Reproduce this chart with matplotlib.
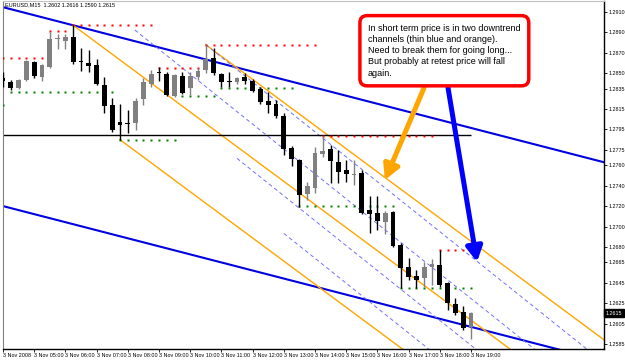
import matplotlib
matplotlib.use("Agg")
import matplotlib.pyplot as plt
import matplotlib.transforms as mtransforms

plt.rcParams['font.family'] = ['Liberation Sans', 'DejaVu Sans']

# EURUSD M15, 3 Nov 2008, 04:00 .. 19:00 (61 candles)
opens = [1.2845, 1.2841, 1.2836, 1.2843, 1.2861, 1.2846, 1.2856, 1.2884, 1.2882, 1.2886,
         1.2862, 1.2860, 1.2858, 1.2839, 1.2819, 1.2802, 1.2801, 1.2801, 1.2825, 1.2840,
         1.2851, 1.2849, 1.2828, 1.2847, 1.2836, 1.2846, 1.2853, 1.2865, 1.2849, 1.2842,
         1.2841, 1.2846, 1.2842, 1.2835, 1.2823, 1.2820, 1.2808, 1.2777, 1.2765, 1.2732,
         1.2738, 1.2771, 1.2776, 1.2763, 1.2755, 1.2750, 1.2752, 1.2716, 1.2713, 1.2704,
         1.2714, 1.2682, 1.2660, 1.2652, 1.2650, 1.2660, 1.2662, 1.2645, 1.2624, 1.2616,
         1.2602]
highs = [1.2851, 1.2843, 1.2844, 1.2863, 1.2862, 1.2859, 1.2890, 1.2888, 1.2888, 1.2897,
         1.2875, 1.2873, 1.2864, 1.2846, 1.2826, 1.2820, 1.2814, 1.2826, 1.2845, 1.2853,
         1.2856, 1.2851, 1.2849, 1.2851, 1.2851, 1.2855, 1.2878, 1.2875, 1.2850, 1.2851,
         1.2846, 1.2850, 1.2844, 1.2837, 1.2832, 1.2824, 1.2811, 1.2779, 1.2766, 1.2744,
         1.2778, 1.2789, 1.2780, 1.2775, 1.2765, 1.2765, 1.2755, 1.2730, 1.2730, 1.2715,
         1.2715, 1.2684, 1.2669, 1.2657, 1.2665, 1.2668, 1.2677, 1.2646, 1.2630, 1.2622,
         1.2616]
lows = [1.2837, 1.2834, 1.2835, 1.2842, 1.2845, 1.2842, 1.2855, 1.2874, 1.2874, 1.2859,
        1.2852, 1.2851, 1.2839, 1.2811, 1.2793, 1.2785, 1.2792, 1.2794, 1.2819, 1.2837,
        1.2842, 1.2828, 1.2827, 1.2830, 1.2829, 1.2843, 1.2850, 1.2848, 1.2837, 1.2837,
        1.2840, 1.2840, 1.2832, 1.2820, 1.2811, 1.2806, 1.2770, 1.2759, 1.2719, 1.2726,
        1.2733, 1.2768, 1.2743, 1.2743, 1.2744, 1.2741, 1.2712, 1.2694, 1.2697, 1.2693,
        1.2680, 1.2640, 1.2648, 1.2640, 1.2641, 1.2643, 1.2641, 1.2618, 1.2613, 1.2599,
        1.2590]
closes = [1.2842, 1.2836, 1.2843, 1.2862, 1.2847, 1.2858, 1.2884, 1.2884, 1.2886, 1.2861,
          1.2861, 1.2857, 1.2840, 1.2818, 1.2794, 1.2799, 1.2800, 1.2823, 1.2841, 1.2849,
          1.2850, 1.2829, 1.2848, 1.2831, 1.2847, 1.2852, 1.2864, 1.2850, 1.2841, 1.2841,
          1.2845, 1.2842, 1.2833, 1.2822, 1.2819, 1.2808, 1.2776, 1.2766, 1.2731, 1.2740,
          1.2772, 1.2774, 1.2764, 1.2753, 1.2751, 1.2751, 1.2713, 1.2712, 1.2705, 1.2713,
          1.2681, 1.2659, 1.2651, 1.2648, 1.2660, 1.2663, 1.2643, 1.2625, 1.2615, 1.2601,
          1.2615]

time_labels = ["3 Nov 2008", "3 Nov 05:00", "3 Nov 06:00", "3 Nov 07:00", "3 Nov 08:00",
               "3 Nov 09:00", "3 Nov 10:00", "3 Nov 11:00", "3 Nov 12:00", "3 Nov 13:00",
               "3 Nov 14:00", "3 Nov 15:00", "3 Nov 16:00", "3 Nov 17:00", "3 Nov 18:00",
               "3 Nov 19:00"]
price_ticks = [1.2910, 1.2890, 1.2870, 1.2850, 1.2835, 1.2815, 1.2795, 1.2775, 1.2760,
               1.2740, 1.2720, 1.2700, 1.2680, 1.2665, 1.2645, 1.2625, 1.2605, 1.2585]

# dotted fractal levels: (first bar, last bar, price)
red_levels = [(0, 5, 1.2865), (6, 8, 1.2891), (9, 19, 1.2897), (20, 25, 1.2855),
              (26, 40, 1.2878), (41, 55, 1.2789), (56, 60, 1.2677)]
green_levels = [(0, 0, 1.2819), (1, 14, 1.2832), (15, 22, 1.2785), (23, 27, 1.2828),
                (28, 37, 1.2836), (38, 50, 1.2720), (51, 60, 1.2640)]

# long blue channel: two anchor points of the upper line, one point of the lower
blue_upper = [(9, 1.2897), (77, 1.2763)]
blue_lower_start = (0, 1.2720)
# orange channel lines: start point, common slope per bar
orange_starts = [(9, 1.2897), (15, 1.2785), (26, 1.2878)]
orange_slope = -0.000566
# thin dashed blue channel: start point, common slope per bar
dashed_starts = [(26, 1.2878), (16.9, 1.28924), (30, 1.27667), (36, 1.26933)]
dashed_slope = -0.000610
level_price = 1.2790

note = ("In short term price is in two downtrend\n"
        "channels (thin blue and orange).\n"
        "Need to break them for going long...\n"
        "But probably at retest price will fall\n"
        "again.")
orange_arrow = [(53.97, 1.28356), (48.97, 1.27455)]
blue_arrow = [(57.05, 1.2836), (60.77, 1.26653)]
last_price = 1.2615

fig = plt.figure(figsize=(6.25, 3.6), dpi=100)
ax = fig.add_axes([2.5 / 625, 11 / 360, 601.5 / 625, 348 / 360])
ax.set_xlim(-0.06, 77.05)
ax.set_ylim(1.258008, 1.292077)

n = len(opens)
bars = list(range(n))
x_end = 80

# long blue channel
slope_b = (blue_upper[1][1] - blue_upper[0][1]) / (blue_upper[1][0] - blue_upper[0][0])
ax.plot([-1, x_end], [blue_upper[0][1] + slope_b * (-1 - blue_upper[0][0]),
                      blue_upper[0][1] + slope_b * (x_end - blue_upper[0][0])],
        color='#0000e0', lw=1.5, zorder=2)
bx, by = blue_lower_start
ax.plot([-1, x_end], [by + slope_b * (-1 - bx), by + slope_b * (x_end - bx)],
        color='#0000e0', lw=1.5, zorder=2)

for sx, sy in orange_starts:
    ax.plot([sx, x_end], [sy, sy + orange_slope * (x_end - sx)], color='#ffa500', lw=1.0, zorder=2)

for sx, sy in dashed_starts:
    ax.plot([sx, x_end], [sy, sy + dashed_slope * (x_end - sx)], color='#7070ff', lw=0.7,
            dashes=(4, 3), zorder=2)

ax.hlines(level_price, -1, 60, color='black', lw=1, zorder=2)

for a, b, p in red_levels:
    ax.plot(range(a, b + 1), [p] * (b - a + 1), 's', ms=1.5, color='#ff0000', mec='none', zorder=3)
for a, b, p in green_levels:
    ax.plot(range(a, b + 1), [p] * (b - a + 1), 's', ms=1.5, color='#008000', mec='none', zorder=3)

# candles
cols = ['#808080' if c >= o else 'black' for o, c in zip(opens, closes)]
ax.vlines(bars, lows, highs, colors=cols, lw=1, zorder=4)
body_h = [max(abs(c - o), 0.00009) for o, c in zip(opens, closes)]
body_b = [min(o, c) for o, c in zip(opens, closes)]
ax.bar(bars, body_h, bottom=body_b, width=0.62, color=cols, lw=0, zorder=5)

# note and arrows
ax.text(46.8, 1.28985, note, ha='left', va='top', fontsize=6.5, linespacing=1.32, zorder=7,
        bbox=dict(boxstyle='round,pad=0.9,rounding_size=0.8', fc='white', ec='#ff0000', lw=2.5))
for (tail, head), col in [(orange_arrow, '#ffa500'), (blue_arrow, '#0000ff')]:
    ax.annotate('', xy=head, xytext=tail, zorder=6,
                arrowprops=dict(arrowstyle='-|>,head_length=0.55,head_width=0.3', lw=3.6,
                                color=col, shrinkA=0, shrinkB=0, mutation_scale=16))

# axes decoration
small = ['Liberation Sans Narrow', 'Liberation Sans', 'DejaVu Sans']
ax.yaxis.tick_right()
ax.set_yticks(price_ticks)
ax.set_yticklabels([f"{p:.4f}" for p in price_ticks], family=small, fontsize=3.9)
ax.set_xticks(bars[::4])
ax.set_xticklabels(time_labels, ha='left', family=small, fontsize=3.9)
ax.tick_params(axis='both', length=2, width=0.6, pad=1.0, direction='out')
for side in ['right', 'bottom']:
    ax.spines[side].set_linewidth(1.0)
ax.spines['left'].set_color('#808080')
ax.spines['top'].set_color('#c0c0c0')

tr = mtransforms.blended_transform_factory(ax.transAxes, ax.transData)
ax.text(1.003, last_price, f"{last_price:.4f}", transform=tr, color='white', fontsize=3.9,
        family=small, va='center', ha='left',
        bbox=dict(boxstyle='square,pad=0.3', fc='black', ec='black'))
ax.text(0.004, 0.989, "EURUSD,M15  1.2602 1.2616 1.2590 1.2615", transform=ax.transAxes,
        fontsize=4.0, va='center', ha='left', zorder=8)

fig.savefig("out.png", dpi=100)
